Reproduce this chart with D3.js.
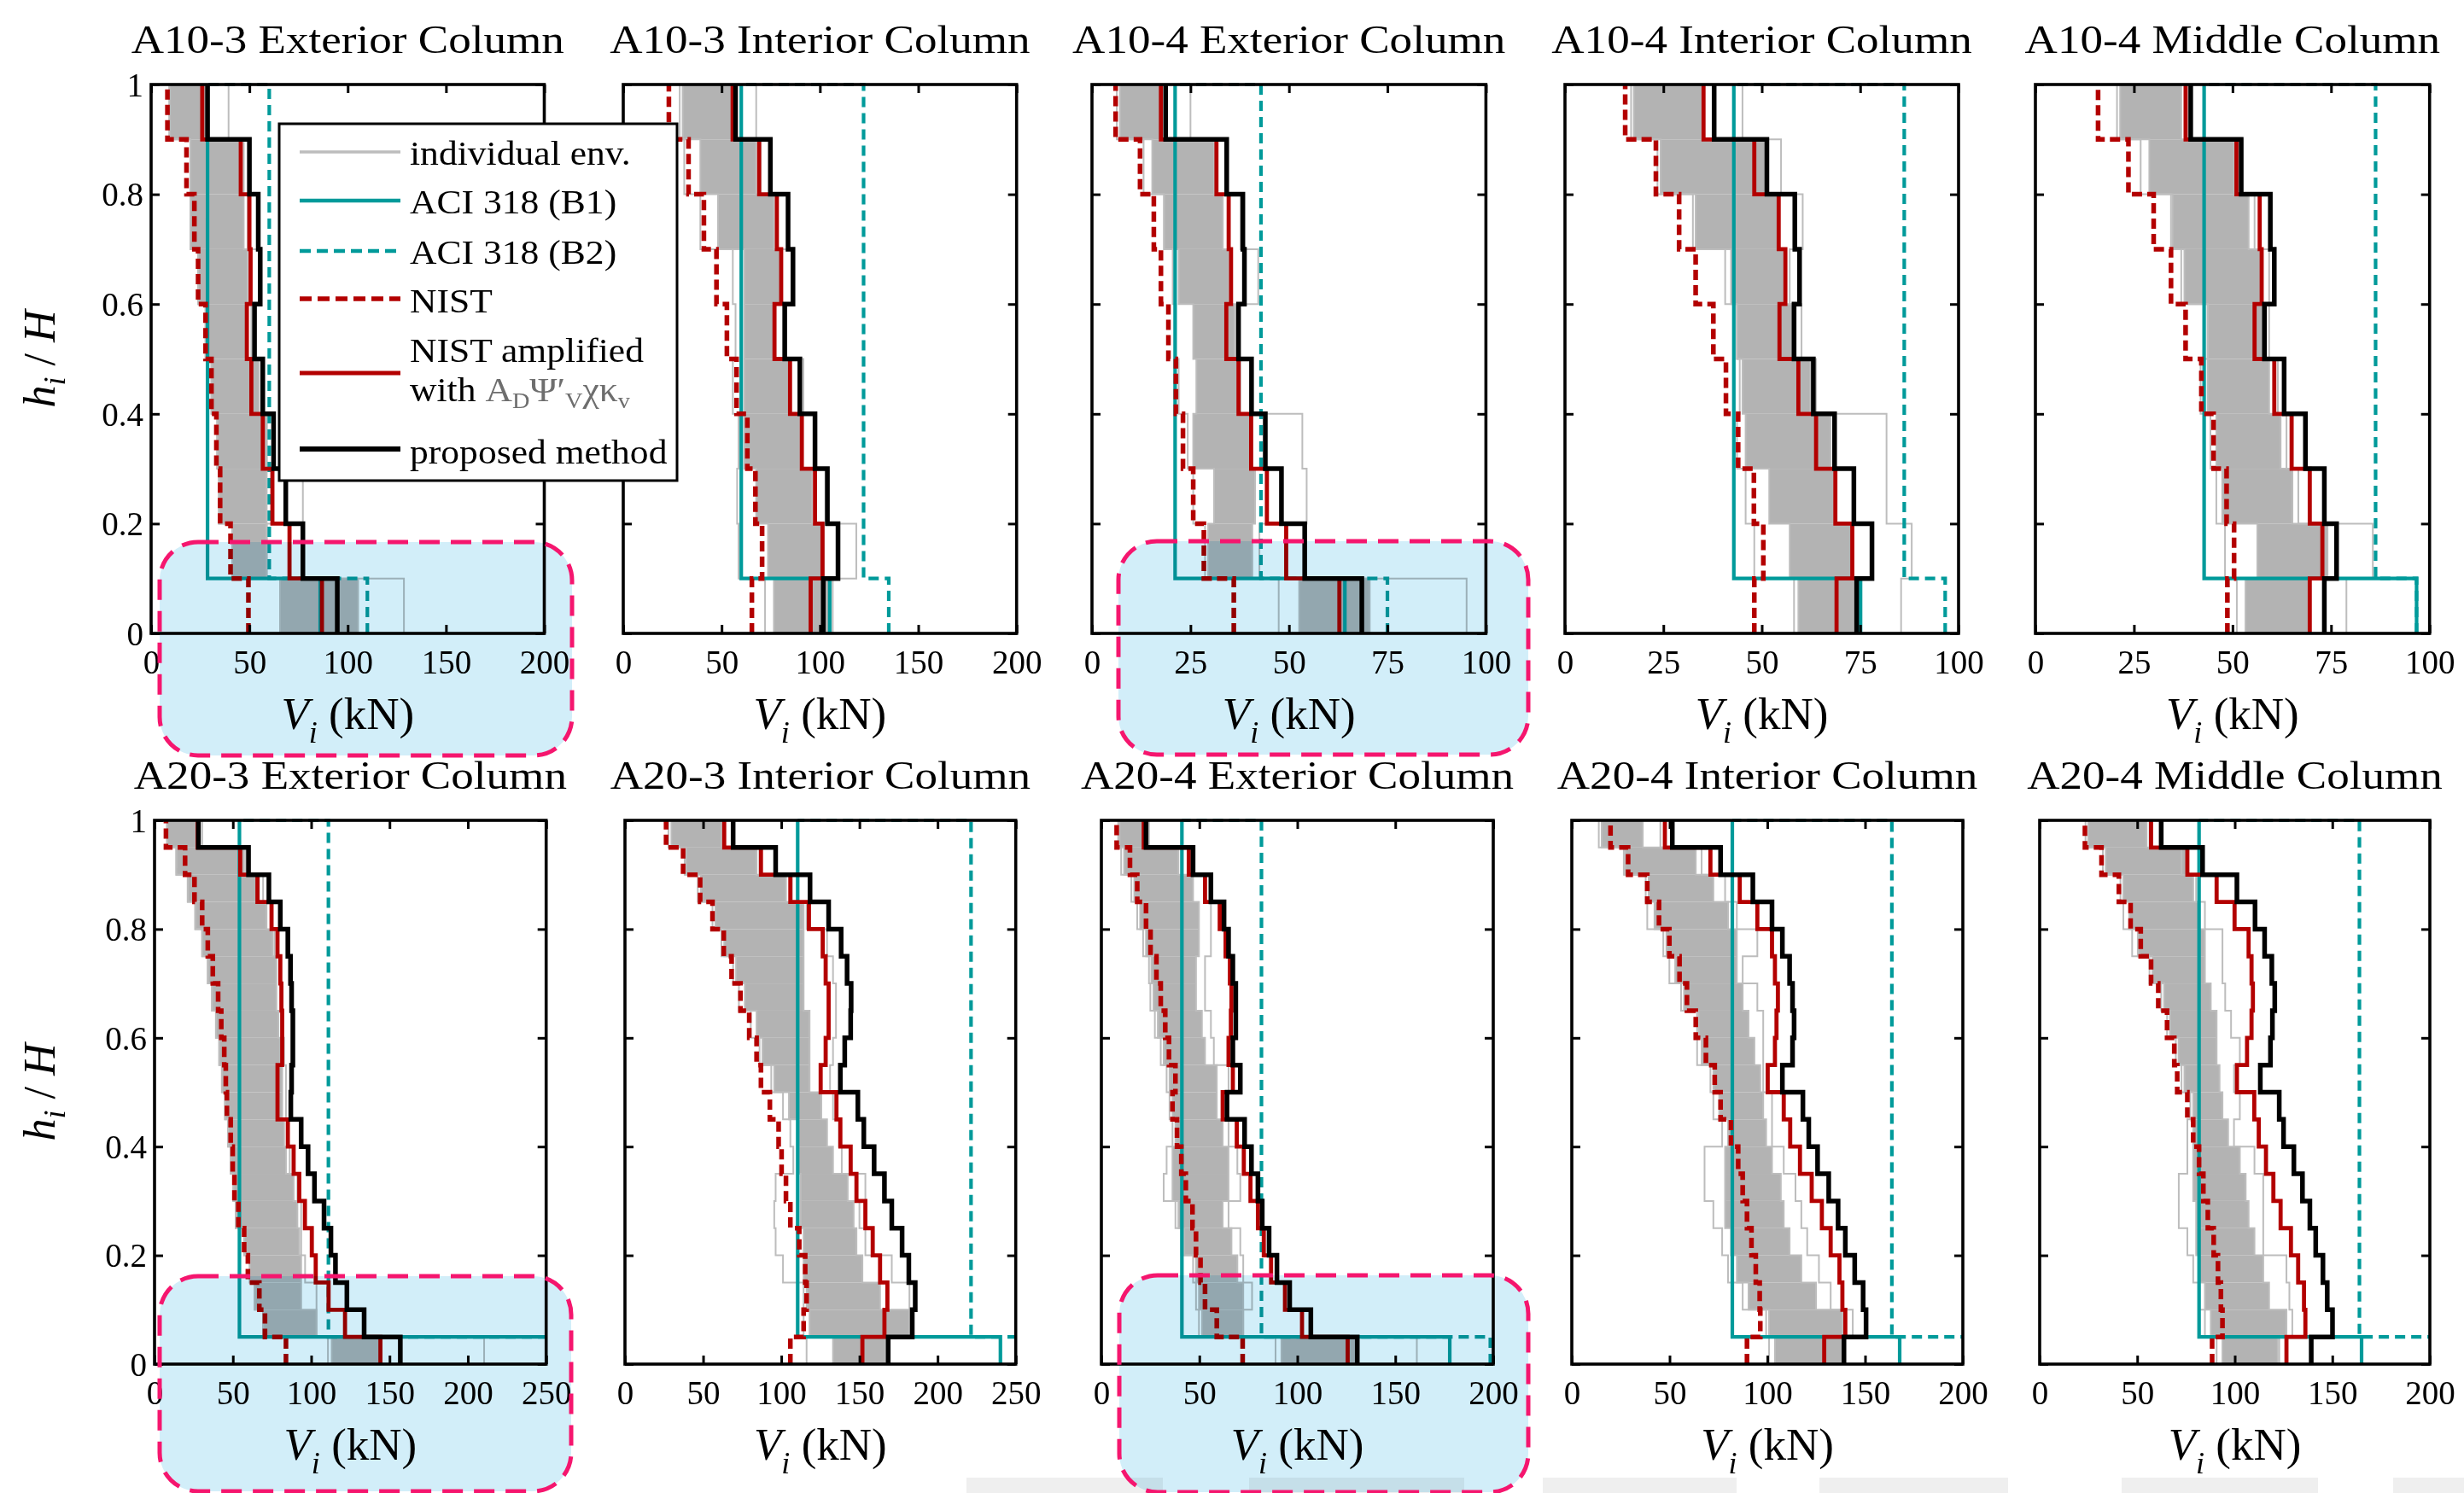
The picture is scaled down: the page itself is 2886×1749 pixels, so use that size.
<!DOCTYPE html>
<html><head><meta charset="utf-8">
<script src="https://cdn.jsdelivr.net/npm/d3@7"></script>
<style>
body{margin:0;background:#fff}
svg{display:block}
text{font-family:'Liberation Serif','Times New Roman',serif;fill:#000}
</style>
</head><body>
<svg id="c" width="2886" height="1749"></svg>
<script>
// ---------------- DATA ----------------
const titles = ["A10-3 Exterior Column","A10-3 Interior Column","A10-4 Exterior Column","A10-4 Interior Column","A10-4 Middle Column",
                "A20-3 Exterior Column","A20-3 Interior Column","A20-4 Exterior Column","A20-4 Interior Column","A20-4 Middle Column"];
const xMaxes = [200,200,100,100,100,250,250,200,200,200];
const xTickValues = [[0,50,100,150,200],[0,50,100,150,200],[0,25,50,75,100],[0,25,50,75,100],[0,25,50,75,100],
                     [0,50,100,150,200,250],[0,50,100,150,200,250],[0,50,100,150,200],[0,50,100,150,200],[0,50,100,150,200]];
const yTickValues = [0,0.2,0.4,0.6,0.8,1];
const yTickLabels = ["0","0.2","0.4","0.6","0.8","1"];
const legendLabels = ["individual env.","ACI 318 (B1)","ACI 318 (B2)","NIST","NIST amplified","proposed method"];

// story values, bottom story first (kN)
const proposed = [
 [94.7,77.2,68.5,62.3,56.8,52.6,55.5,54.5,50.0,28.7],
 [101.7,109.2,103.8,97.5,89.8,82.1,86.3,83.8,74.8,57.1],
 [68.5,54.0,48.1,44.0,40.5,37.2,38.7,38.3,34.2,18.7],
 [74.1,78.0,73.4,68.5,63.1,58.2,59.6,58.4,51.3,37.9],
 [73.3,76.4,73.3,68.5,63.1,58.1,60.6,59.6,52.2,39.4],
 [156.9,133.8,122.8,115.5,112.6,108.2,102.1,98.0,93.6,87.0,87.5,88.3,88.3,87.5,86.8,85.1,80.3,73.0,60.0,28.0],
 [168.4,183.8,185.7,181.6,177.3,170.7,166.0,159.4,152.8,149.0,137.8,140.6,144.4,144.7,142.1,138.3,130.3,118.4,96.4,69.2],
 [130.6,106.9,96.1,89.6,85.6,82.1,79.9,76.6,73.1,64.1,70.9,67.1,68.6,68.6,67.1,64.9,62.6,55.9,46.8,22.8],
 [139.2,150.5,149.0,144.7,139.9,136.2,131.4,125.7,121.2,118.2,107.7,112.9,113.7,112.9,111.4,107.7,102.4,92.6,76.1,51.4],
 [139.2,150.1,147.4,145.2,141.5,138.5,134.7,130.3,125.0,122.8,113.1,118.3,119.3,120.5,119.0,115.3,110.4,101.1,83.5,62.3]
];
const nistAmplified = [
 [86.9,70.4,61.7,56.8,51.0,48.7,50.6,50.0,45.6,26.0],
 [95.3,101.3,97.5,90.8,84.8,76.9,80.3,78.1,69.1,55.6],
 [62.8,49.3,44.4,40.4,37.2,34.1,35.3,34.7,31.6,17.5],
 [69.0,73.0,68.7,63.8,59.3,54.5,56.0,54.3,48.1,35.2],
 [69.6,72.8,69.6,65.0,60.6,55.6,57.4,56.9,51.0,38.1],
 [144.2,121.6,111.1,102.9,100.4,96.0,92.4,88.8,85.1,78.5,78.5,81.5,81.5,81.0,80.3,78.5,74.7,65.7,54.7,27.5],
 [151.9,166.0,167.9,163.2,158.5,153.8,148.1,144.4,137.8,135.3,125.2,128.4,130.3,130.3,128.4,126.5,117.7,105.8,87.0,63.5],
 [125.7,102.4,93.7,86.6,82.9,79.9,76.1,72.7,69.1,61.9,67.1,64.9,66.1,66.4,65.6,63.4,60.4,52.9,44.6,21.6],
 [129.1,139.9,138.4,136.9,132.4,127.9,122.7,116.7,111.7,108.4,100.2,103.9,104.7,105.4,103.9,102.4,94.9,85.9,70.9,47.6],
 [126.5,136.2,135.5,132.5,128.8,123.5,119.8,116.0,112.3,110.0,101.1,106.3,108.6,109.3,108.6,107.1,99.9,90.7,75.7,57.1]
];
const nist = [
 [49.5,40.4,35.1,33.2,30.7,27.7,23.9,22.0,18.0,8.3],
 [65.4,70.6,67.2,63.1,57.6,52.7,47.4,41.0,33.2,23.2],
 [36.0,28.4,25.7,23.1,21.3,19.4,17.5,15.7,12.2,6.0],
 [48.1,50.4,48.0,44.0,40.9,37.7,33.2,29.0,23.1,15.3],
 [48.7,50.4,48.5,45.2,42.1,38.1,34.4,30.0,23.6,15.9],
 [83.9,70.5,66.9,59.6,57.2,53.5,51.0,49.9,48.6,46.2,45.5,44.5,42.6,40.6,37.2,34.0,30.4,25.5,19.5,7.3],
 [105.8,114.3,116.2,115.3,111.5,105.8,103.0,100.2,98.3,92.7,87.0,84.2,79.5,73.9,68.2,63.2,56.0,48.1,37.2,26.3],
 [72.1,58.9,52.9,50.6,48.3,46.5,43.1,40.8,38.6,36.3,37.8,34.5,32.6,30.3,28.1,25.1,22.8,18.3,14.6,7.8],
 [89.6,96.4,96.1,94.1,91.9,89.6,87.4,85.1,81.4,76.1,73.1,68.6,63.4,58.9,55.1,49.9,44.6,38.6,28.8,19.8],
 [88.4,93.7,92.9,91.4,89.2,86.2,83.9,81.7,78.7,75.7,70.5,69.0,65.3,60.8,57.1,51.8,46.6,40.6,31.7,23.2]
];
const aciB1First = [86.0,105.0,64.2,75.1,96.7,265,240.2,177.8,167.7,165.0];
const aciB1Upper = [28.7,60.0,21.1,42.9,42.8,54.2,110.5,41.1,82.1,81.7];
const aciB2First = [110.0,135.0,75.0,96.6,96.7,265,265,198.5,215,215];
const aciB2Upper = [60.1,122.2,42.9,86.2,86.3,111.0,221.4,81.7,163.7,163.9];

// individual envelopes: dense band and outer extremes, per story
const bandLo = [
 [65.6,41.3,34.5,33.6,30.7,27.7,23.9,20.0,20.0,9.3],
 [76.6,73.6,67.6,61.6,61.6,61.6,61.6,48.2,39.2,30.2],
 [52.6,29.5,31.0,25.7,26.5,25.7,22.0,18.3,15.3,7.1],
 [59.3,57.1,51.9,45.9,45.1,43.7,42.2,33.2,24.3,17.5],
 [53.3,56.3,47.4,45.9,43.7,43.7,37.8,34.8,28.9,21.5],
 [113.1,69.3,63.9,60.8,57.2,51.8,50.3,48.6,46.9,45.0,43.0,41.3,39.2,36.7,34.0,30.4,26.0,21.2,13.9,8.0],
 [133.1,118.1,116.2,114.3,114.3,112.4,112.4,110.5,110.5,104.9,95.5,88.0,84.2,76.7,71.1,63.5,57.9,48.5,39.1,29.7],
 [91.9,51.4,49.8,48.3,42.3,39.3,36.3,36.3,37.8,36.3,34.8,31.8,28.8,26.6,25.5,22.8,19.8,16.8,11.6,9.3],
 [103.9,100.9,90.4,84.4,81.4,78.4,78.4,78.4,79.9,75.4,72.4,66.4,64.9,57.4,52.9,48.4,42.3,39.3,27.3,15.3],
 [93.7,87.7,84.7,81.7,80.2,80.2,78.7,78.7,78.7,78.7,74.2,71.2,66.8,63.8,57.8,50.3,45.9,42.9,33.9,24.9]
];
const bandHi = [
 [105.3,58.8,58.8,58.8,54.9,49.0,49.0,47.1,45.2,27.7],
 [105.0,102.0,96.0,90.1,84.1,76.6,79.6,76.6,67.6,55.7],
 [70.5,40.7,41.4,40.7,37.7,36.2,34.7,33.2,31.0,17.5],
 [73.5,72.8,68.3,67.5,62.3,58.6,55.6,54.1,51.1,34.7],
 [69.6,74.1,65.2,62.2,59.3,57.8,57.0,54.1,50.4,37.0],
 [144.7,103.4,93.6,93.6,92.4,91.2,88.8,83.9,82.7,81.5,81.5,80.3,79.1,77.8,77.8,75.4,71.5,66.7,57.1,27.9],
 [166.9,182.0,163.2,151.9,148.1,146.3,142.5,133.1,129.3,125.6,118.1,118.1,118.1,114.3,114.3,114.3,114.3,103.0,84.2,61.7],
 [130.9,72.4,72.4,69.4,66.4,61.9,64.9,64.9,61.9,58.9,58.9,52.9,51.3,48.3,48.3,49.8,49.8,46.8,39.3,22.8],
 [138.4,138.4,124.9,117.4,111.4,108.4,106.9,102.4,99.4,97.9,96.4,93.4,90.4,87.4,84.4,84.4,79.9,72.4,63.4,36.3],
 [122.0,126.5,117.6,114.6,110.1,107.1,105.6,102.6,96.6,93.7,92.2,90.7,90.7,87.7,84.7,84.7,81.7,78.7,75.7,54.8]
];
const envLo = [
 [65.6,41.3,34.5,33.6,30.7,27.7,23.9,20.0,20.0,9.3],
 [72.1,58.6,57.9,58.6,55.7,57.1,55.7,39.2,31.0,28.7],
 [47.4,28.7,25.7,24.3,22.0,21.3,20.5,18.3,13.1,6.3],
 [58.2,48.1,45.9,43.7,44.4,43.7,40.7,32.5,23.5,16.8],
 [51.1,48.1,45.9,44.4,41.9,43.7,37.0,34.4,26.7,20.7],
 [110.7,69.3,63.9,60.8,57.2,51.8,50.3,48.6,46.9,45.0,43.0,41.3,39.2,36.7,34.0,30.4,26.0,21.2,13.9,8.0],
 [116.2,114.3,114.3,101.1,96.4,95.5,96.4,107.7,105.8,101.1,93.6,86.1,80.5,72.9,69.2,61.7,56.0,46.6,38.2,27.8],
 [88.9,49.8,48.3,46.8,40.8,37.8,31.8,33.3,36.3,34.8,33.3,30.3,27.3,25.0,24.3,21.3,18.3,15.3,10.1,8.6],
 [100.9,99.4,87.4,79.9,76.9,72.4,67.9,67.9,76.9,72.4,70.9,64.1,64.1,55.9,49.9,46.8,38.6,37.8,26.6,13.8],
 [90.7,84.7,81.7,78.7,75.7,71.3,71.3,75.7,75.7,77.2,72.7,69.8,65.3,62.3,56.3,47.4,42.9,41.4,32.4,23.5]
];
const envHi = [
 [128.6,58.8,77.2,58.8,56.8,51.0,54.9,49.1,47.1,39.4],
 [106.5,118.5,102.8,97.5,91.6,82.6,85.6,78.1,69.9,67.6],
 [95.1,42.5,54.5,53.4,40.7,36.6,42.2,37.7,31.0,25.0],
 [85.4,88.1,81.7,81.7,63.8,60.1,57.1,60.4,54.9,45.1],
 [78.9,85.6,66.7,63.7,61.5,59.3,59.3,55.6,52.6,38.5],
 [210.4,103.4,103.4,96.1,93.6,93.6,91.2,86.3,85.1,83.9,83.9,82.7,81.5,81.5,80.3,76.6,74.2,69.3,58.4,30.4],
 [168.8,183.9,182.0,170.7,153.8,150.0,153.8,138.7,136.9,133.1,131.2,133.1,135.0,135.0,133.1,129.3,116.2,106.8,86.1,69.2],
 [161.0,72.4,76.9,72.4,70.9,64.9,70.9,69.4,64.9,61.9,64.9,57.4,55.9,52.9,52.9,55.9,55.9,52.9,45.3,24.3],
 [139.2,143.7,132.4,126.4,120.4,117.4,114.4,108.4,102.4,102.4,97.9,97.9,97.9,94.9,87.4,94.9,84.4,78.4,66.4,45.3],
 [122.8,129.5,128.0,126.5,114.6,114.6,114.6,110.1,99.6,102.6,99.6,102.6,98.1,95.1,93.7,93.7,84.7,80.2,72.7,56.3]
];

// ---------------- LAYOUT ----------------
const panelLeft  = [177, 730, 1279, 1833, 2384, 181, 732, 1290, 1841, 2389];
const panelRight = [637.5, 1190.7, 1740.4, 2294, 2845.7, 639.7, 1189.7, 1749, 2299, 2846];
const rowTop = [99, 961], rowBottom = [742, 1598];
const C = {gray:'#bdbdbd', band:'#b3b3b3', teal:'#009a9a', red:'#b30000', black:'#000'};

const svg = d3.select('#c');
const defs = svg.append('defs');

function stepPts(vals){
  const n = vals.length, pts = [];
  vals.forEach((v,i)=>{ pts.push([v,i/n]); pts.push([v,(i+1)/n]); });
  return pts;
}
function sText(parent, x, y, size, anchor, sx, str){
  return parent.append('text')
    .attr('transform', `translate(${x},${y}) scale(${sx},1)`)
    .attr('text-anchor', anchor).attr('font-size', size).text(str);
}

titles.forEach((title, p) => {
  const row = p < 5 ? 0 : 1;
  const col = p % 5;
  const L = panelLeft[p], R = panelRight[p], T = rowTop[row], B = rowBottom[row];
  const xs = d3.scaleLinear().domain([0, xMaxes[p]]).range([L, R]);
  const ys = d3.scaleLinear().domain([0, 1]).range([B, T]);
  const n = proposed[p].length;
  const g = svg.append('g');

  defs.append('clipPath').attr('id','clip'+p).append('rect')
    .attr('x', L).attr('y', T - 3).attr('width', R - L).attr('height', B - T + 6);

  const line = d3.line().x(d => xs(d[0])).y(d => ys(d[1]));
  const plot = g.append('g').attr('clip-path', `url(#clip${p})`);

  // individual envelopes: dense band
  plot.append('g').selectAll('rect').data(d3.range(n)).join('rect')
    .attr('x', i => xs(bandLo[p][i]))
    .attr('width', i => xs(bandHi[p][i]) - xs(bandLo[p][i]))
    .attr('y', i => ys((i + 1) / n))
    .attr('height', i => ys(i / n) - ys((i + 1) / n))
    .attr('fill', C.band);
  // outer individual envelopes
  [envLo[p], envHi[p], bandLo[p], bandHi[p]].forEach(arr => {
    plot.append('path').attr('d', line(stepPts(arr)))
      .attr('fill','none').attr('stroke', C.gray).attr('stroke-width', 2);
  });

  // ACI 318 (B1)
  const b1 = d3.range(n).map(i => i === 0 ? aciB1First[p] : aciB1Upper[p]);
  plot.append('path').attr('d', line(stepPts(b1)))
    .attr('fill','none').attr('stroke', C.teal).attr('stroke-width', 4.2);
  // ACI 318 (B2)
  const b2 = d3.range(n).map(i => i === 0 ? aciB2First[p] : aciB2Upper[p]);
  plot.append('path').attr('d', line(stepPts(b2).concat([[aciB1Upper[p], 1]])))
    .attr('fill','none').attr('stroke', C.teal).attr('stroke-width', 4.2)
    .attr('stroke-dasharray', '12,7');
  // NIST
  plot.append('path').attr('d', line(stepPts(nist[p])))
    .attr('fill','none').attr('stroke', C.red).attr('stroke-width', 5.5)
    .attr('stroke-dasharray', '12,6');
  // NIST amplified
  plot.append('path').attr('d', line(stepPts(nistAmplified[p])))
    .attr('fill','none').attr('stroke', C.red).attr('stroke-width', 4.8);
  // proposed
  plot.append('path').attr('d', line(stepPts(proposed[p])))
    .attr('fill','none').attr('stroke', C.black).attr('stroke-width', 5.5);

  // axes (inside ticks on all sides)
  const tk = 10;
  const ax = g.append('g').attr('transform', `translate(0,${B})`)
    .call(d3.axisBottom(xs).tickValues(xTickValues[p]).tickSize(-tk).tickPadding(12).tickFormat(d3.format('d')));
  ax.selectAll('text').attr('font-size', 39).attr('dy', null).attr('y', 47)
    .attr('font-family', "'Liberation Serif',serif").attr('fill','#000');
  g.append('g').attr('transform', `translate(0,${T})`)
    .call(d3.axisTop(xs).tickValues(xTickValues[p]).tickSize(-tk).tickFormat(''));
  const ay = g.append('g').attr('transform', `translate(${L},0)`)
    .call(d3.axisLeft(ys).tickValues(yTickValues).tickSize(-tk).tickPadding(9)
      .tickFormat((d,i) => col === 0 ? yTickLabels[i] : ''));
  ay.selectAll('text').attr('font-size', 39).attr('dy','0.34em')
    .attr('font-family', "'Liberation Serif',serif").attr('fill','#000');
  g.append('g').attr('transform', `translate(${R},0)`)
    .call(d3.axisRight(ys).tickValues(yTickValues).tickSize(-tk).tickFormat(''));
  g.selectAll('.domain').remove();
  g.selectAll('.tick line').attr('stroke','#000').attr('stroke-width', 3);
  g.append('rect').attr('x', L).attr('y', T).attr('width', R - L).attr('height', B - T)
    .attr('fill','none').attr('stroke','#000').attr('stroke-width', 3.6);

  // title
  const cx = (L + R) / 2;
  sText(g, cx, T - 37, 47, 'middle', 1.13, title);

  // x label
  const xl = g.append('text').attr('transform', `translate(${cx},${B + 112})`)
    .attr('text-anchor','middle').attr('font-size', 53);
  xl.append('tspan').attr('font-style','italic').text('V');
  xl.append('tspan').attr('font-style','italic').attr('font-size', 36).attr('dy', 16).text('i');
  xl.append('tspan').attr('dy', -16).text(' (kN)');

  // y label
  if (col === 0) {
    const cy = (T + B) / 2;
    const yl = g.append('text').attr('transform', `translate(64,${cy}) rotate(-90)`)
      .attr('text-anchor','middle').attr('font-size', 52);
    yl.append('tspan').attr('font-style','italic').text('h');
    yl.append('tspan').attr('font-style','italic').attr('font-size', 36).attr('dy', 12).text('i');
    yl.append('tspan').attr('dy', -12).text(' / ');
    yl.append('tspan').attr('font-style','italic').text('H');
  }
});

// ---------------- LEGEND ----------------
const lg = svg.append('g');
lg.append('rect').attr('x', 327).attr('y', 145).attr('width', 466).attr('height', 418)
  .attr('fill','#fff').attr('stroke','#000').attr('stroke-width', 3);
const legendRows = [
  {y:178, stroke:C.gray, w:3.5, dash:null, ty:193},
  {y:235, stroke:C.teal, w:4.5, dash:null, ty:250},
  {y:294, stroke:C.teal, w:4.5, dash:'13,7', ty:309},
  {y:350, stroke:C.red, w:5.5, dash:'14,7', ty:366},
  {y:437, stroke:C.red, w:5, dash:null, ty:424},
  {y:526, stroke:C.black, w:6, dash:null, ty:543}
];
legendRows.forEach((r, i) => {
  lg.append('line').attr('x1', 351).attr('x2', 469).attr('y1', r.y).attr('y2', r.y)
    .attr('stroke', r.stroke).attr('stroke-width', r.w).attr('stroke-dasharray', r.dash);
  sText(lg, 480, r.ty, 40, 'start', 1.09, legendLabels[i]);
});
const wt = lg.append('text').attr('transform','translate(480,470) scale(1.09,1)').attr('font-size', 40);
wt.append('tspan').text('with ');
const gc = '#6e6e6e';
wt.append('tspan').attr('fill', gc).text('A');
wt.append('tspan').attr('fill', gc).attr('font-size', 26).attr('dy', 8).text('D');
wt.append('tspan').attr('fill', gc).attr('dy', -8).text('Ψ′');
wt.append('tspan').attr('fill', gc).attr('font-size', 26).attr('dy', 8).text('V');
wt.append('tspan').attr('fill', gc).attr('dy', -8).text('χκ');
wt.append('tspan').attr('fill', gc).attr('font-size', 26).attr('dy', 8).text('v');

// ---------------- page artefacts ----------------
const strips = [[1132,1362],[1463,1715],[1807,2034],[2131,2352],[2485,2715],[2803,2886]];
svg.append('g').selectAll('rect').data(strips).join('rect')
  .attr('x', d => d[0]).attr('width', d => d[1] - d[0]).attr('y', 1731).attr('height', 18)
  .attr('fill', '#efefef');

// highlight boxes
const boxes = [[187,635,483,250],[1310,634,480,250],[187,1495,482,252],[1311,1494,479,254]];
const hb = svg.append('g');
hb.selectAll('rect.fill').data(boxes).join('rect').attr('class','fill')
  .attr('x', d => d[0]).attr('y', d => d[1]).attr('width', d => d[2]).attr('height', d => d[3])
  .attr('rx', 45).attr('ry', 45)
  .attr('fill', '#d2eef9').style('mix-blend-mode', 'multiply');
hb.selectAll('rect.edge').data(boxes).join('rect').attr('class','edge')
  .attr('x', d => d[0]).attr('y', d => d[1]).attr('width', d => d[2]).attr('height', d => d[3])
  .attr('rx', 45).attr('ry', 45)
  .attr('fill', 'none').attr('stroke', '#f5166e').attr('stroke-width', 5)
  .attr('stroke-dasharray', '24,13');
</script>
</body></html>
